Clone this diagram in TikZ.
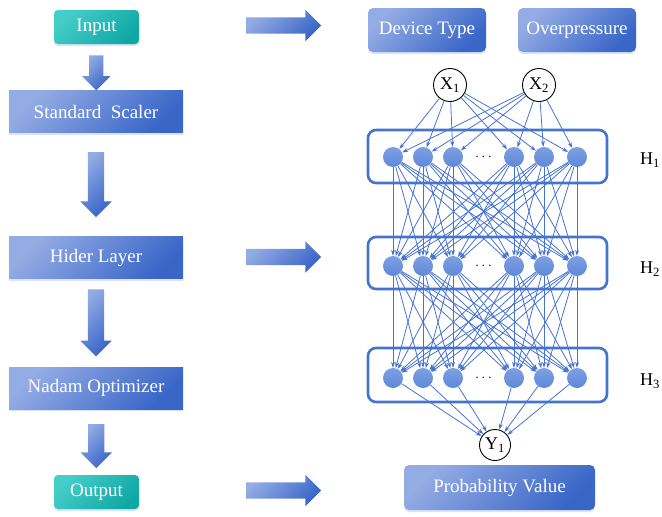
\documentclass[tikz,border=0pt]{standalone}
\usepackage{fontspec}
\setmainfont{Liberation Serif}
\usepackage{tikz}
\usetikzlibrary{arrows.meta,calc,positioning,shapes.arrows,shadows}
\definecolor{blue300}{HTML}{94ACE4}
\definecolor{blue700}{HTML}{3A66C8}
\definecolor{teal300}{HTML}{45CDC8}
\definecolor{teal700}{HTML}{10A8A5}
\definecolor{netblue}{HTML}{4673CF}
\definecolor{cellblue}{HTML}{5E88DA}
\tikzstyle{softshadow}=[drop shadow={shadow xshift=0pt, shadow yshift=-2pt, opacity=0.18, fill=blue700}]
\tikzstyle{stage}=[rectangle, top color=blue300, bottom color=blue700, shading angle=45, text=white, font=\fontsize{19}{22}\selectfont, minimum width=174, minimum height=42, inner sep=0, softshadow]
\tikzstyle{feature}=[stage, rounded corners=5, minimum width=118, minimum height=44]
\tikzstyle{terminal}=[stage, top color=teal300, bottom color=teal700, shading angle=45, rounded corners=4, minimum width=85, minimum height=34]
\tikzstyle{blockarrow}=[single arrow, top color=blue300, bottom color=blue700, shading angle=45, inner sep=8, single arrow head extend=7.5, minimum width=31]
\tikzstyle{downarrow}=[blockarrow, shape border rotate=270]
\tikzstyle{unit}=[circle, draw=black, line width=0.9, fill=white, minimum size=33, inner sep=0, font=\fontsize{18}{20}\selectfont]
\tikzstyle{cell}=[circle, shading=axis, top color=cellblue!80!white, bottom color=cellblue, minimum size=20, inner sep=0]
\tikzstyle{layerbox}=[draw=netblue, line width=2.6, rounded corners=8, minimum width=239, inner sep=0]
\tikzstyle{link}=[draw=netblue, line width=0.8, -{Stealth[length=6pt, width=4pt]}]

\begin{document}
\begin{tikzpicture}[x=1pt, y=-1pt]
	\useasboundingbox (0,0) rectangle (662,517);
	% pipeline on the left
	\node[terminal] (input) at (96.5,27) {Input};
	\node[stage] (scaler) at (96,111.5) {Standard\ \ Scaler};
	\node[stage] (hider) at (96,257.5) {Hider Layer};
	\node[stage] (nadam) at (96,388) {Nadam Optimizer};
	\node[terminal] (output) at (96.5,492) {Output};
	\node[downarrow, minimum height=35, minimum width=28, inner sep=7, single arrow head extend=7] (a1) at ($(input.south)!0.5!(scaler.north)+(0,2)$) {};
	\node[downarrow, minimum height=65] (a2) at ($(scaler.south)!0.5!(hider.north)+(0,-4)$) {};
	\node[downarrow, minimum height=67] (a3) at ($(hider.south)!0.5!(nadam.north)+(0,-4)$) {};
	\node[downarrow, minimum height=44] (a4) at ($(nadam.south)!0.5!(output.north)$) {};
	% arrows across
	\node[blockarrow, minimum height=75] (r1) at (279.5,25.5) {};
	\node[blockarrow, minimum height=75] (r2) at (279.5,257) {};
	\node[blockarrow, minimum height=75] (r3) at (279.5,490.5) {};
	% network on the right
	\node[feature] (devtype) at (427,30) {Device Type};
	\node[feature] (overpr) at (577,30) {Overpressure};
	\node[unit] (x1) at (450,85) {X\textsubscript{1}};
	\node[unit] (x2) at (539,85) {X\textsubscript{2}};
	\node[unit, minimum size=31] (y1) at (495,445) {Y\textsubscript{1}};
	\node[feature, minimum width=191, minimum height=45] (prob) at (499.5,487.5) {Probability Value};
	\node[layerbox, minimum height=53] (L1) at (487.5,156.5) {};
	\node[layerbox, minimum height=52] (L2) at (487.5,263) {};
	\node[layerbox, minimum height=54] (L3) at (487.5,375) {};
	\foreach \l/\y in {1/157,2/266,3/378} {
		\foreach \x [count=\i] in {393,423,453,514,544,577}
			\node[cell] (h\l-\i) at (\x,\y) {};
		\node[font=\fontsize{14}{14}\selectfont] (dots\l) at (483.5,\y) {$\cdots$};
		\node[font=\fontsize{18}{20}\selectfont, anchor=west, inner sep=0] (lab\l) at (640,\y+3) {H\textsubscript{\l}};
	}
	\foreach \i in {1,...,6} {
		\path[link] (x1) -- (h1-\i);
		\path[link] (x2) -- (h1-\i);
		\path[link] (h3-\i) -- (y1);
		\foreach \j in {1,...,6} {
			\path[link] (h1-\i) -- (h2-\j);
			\path[link] (h2-\i) -- (h3-\j);
		}
	}
\end{tikzpicture}
\end{document}
